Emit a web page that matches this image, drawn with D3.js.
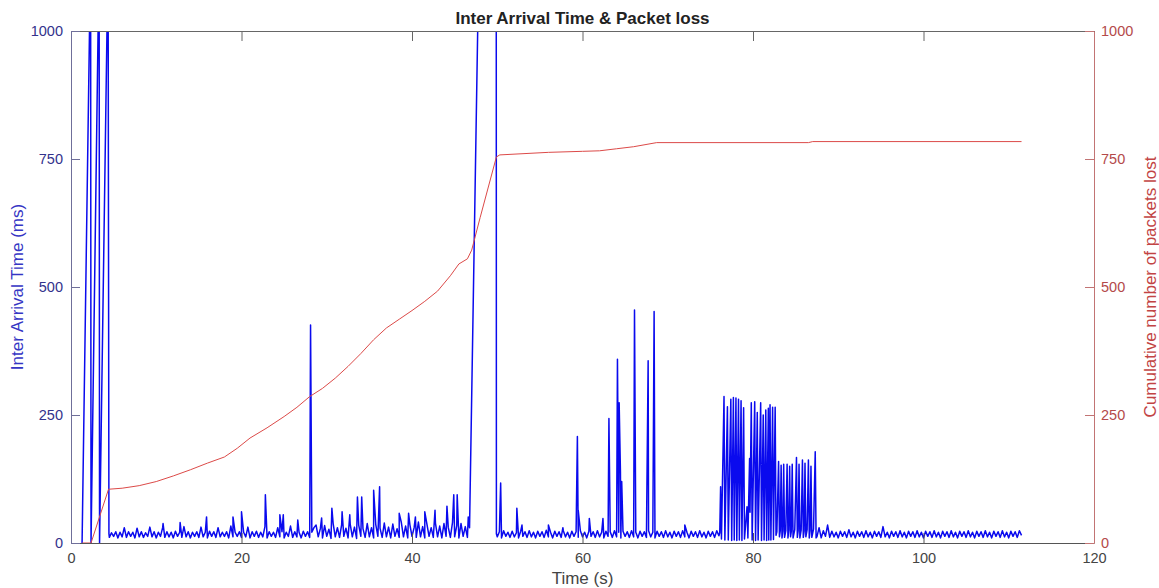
<!DOCTYPE html>
<html>
<head>
<meta charset="utf-8">
<title>Inter Arrival Time & Packet loss</title>
<script src="https://d3js.org/d3.v7.min.js"></script>
<style>
  body { margin: 0; background: #fff; }
  svg { display: block; font-family: "Liberation Sans", Arial, sans-serif; }
</style>
</head>
<body>
<script>

// ---- data ----
// x ticks / y ticks
var xTicks = [0, 20, 40, 60, 80, 100, 120];
var yTicks = [0, 250, 500, 750, 1000];

// blue: inter arrival time (ms). leading outages at start of capture
var leadT = [1.3, 2.3, 2.35, 3.3, 3.35, 4.35, 4.45];
var leadV = [0, 1150, 0, 1150, 0, 1150, 18];

// regular traffic, one reading every 0.25 s
var noiseStep = 0.25;
var noise1Start = 4.5;
var noise1 = [
  11,20,13,22,10,21,12,30,11,22,
  13,21,10,29,12,22,11,20,13,31,
  12,22,10,21,13,30,11,22,12,21,
  10,23,13,21,11,32,12,22,10,21,
  13,22,11,31,12,21,10,23,13,22,
  11,30,12,21,13,22,10,33,12,21,
  13,22,11,21,12,31,10,22,13,23,
  11,21,12,32,10,22,13,21,11,30,
  12,22,10,21,13,33,11,22,12,21,
  10,23,13,22,11,21,30,35,12,28,
  10,34,13,27,9,38,12,30,11,36,
  13,29,10,37,12,31,9,35,13,28,
  11,38,12,30,10,36,13,29,11,39,
  12,31,10,37,13,28,11,40,12,33,
  10,36,13,30,11,41,12,32,10,37,
  13,30,11,39,12,33,10,38,13,31,
  11,40,12,34,10,38,13,32,11,30
];
var spike1T = [10.8, 12.8, 15.9, 19.0, 20.0, 22.8, 24.5, 24.9, 26.6, 28.1, 29.4, 30.6, 31.8, 32.7,
               33.6, 34.1, 35.5, 36.2, 38.5, 39.6, 40.4, 41.5, 42.7, 44.1, 44.9, 45.3, 46.6];
var spike1V = [38, 40, 51, 51, 61, 94, 55, 55, 45, 426, 49, 68, 61, 55,
               90, 90, 103, 110, 58, 58, 51, 61, 64, 72, 94, 94, 51];

// long outage around 47-50 s
var outageT = [49.85, 49.9];
var outageV = [3180, 18];

var noise2Start = 50;
var noise2 = [
  12,22,10,24,13,21,11,23,12,20,
  10,23,13,22,11,24,12,21,10,23,
  13,22,11,25,12,21,10,23,13,22,
  11,24,12,21,10,23,13,22,11,24,
  12,21,10,23,13,22,11,24,12,21,
  10,23,13,22,11,24,12,21,10,23,
  13,22,11,24,12,21,10,23,13,22,
  11,24,12,21,10,23,13,22,11,24,
  12,21,10,23,13,22,11,24,12,21,
  10,23,13,22,11,24,12,21,10,23,
  13,22,11,24,14
];
var spike2T = [50.4, 52.3, 52.9, 56.0, 57.7, 59.4, 59.5, 60.8, 62.4, 63.1, 64.1, 64.3, 64.45, 64.6, 66.1, 67.7, 68.4, 72.0];
var spike2V = [117, 68, 35, 35, 30, 208, 64, 48, 48, 243, 359, 274, 140, 120, 455, 356, 452, 35];

// periodic burst 76-87 s
var burstT = [76.1, 76.2, 76.3, 76.6, 76.7, 77.0, 77.1, 77.4, 77.5, 77.7, 77.8, 78.0, 78.1, 78.3, 78.4,
              78.6, 78.7, 78.9, 79.0, 79.3, 79.4, 79.6, 79.65, 79.8, 79.9, 80.2, 80.3, 80.5, 80.6, 80.9,
              81.0, 81.2, 81.3, 81.5, 81.6, 81.8, 81.85, 82.0, 82.1, 82.3, 82.4, 82.6, 82.7, 82.8, 83.0,
              83.1, 83.2, 83.3, 83.4, 83.5, 83.6, 83.7, 83.85, 84.0, 84.1, 84.2, 84.3, 84.4, 84.5, 84.6,
              84.7, 84.9, 85.1, 85.2, 85.3, 85.4, 85.5, 85.65, 85.8, 85.9, 86.0, 86.1, 86.2, 86.35, 86.5,
              86.6, 86.7, 86.8, 86.9, 87.1, 87.3, 87.4];
var burstV = [20, 110, 8, 286, 6, 266, 6, 281, 5, 284, 6, 283, 5, 281, 6,
              278, 5, 264, 8, 71, 10, 165, 60, 274, 6, 276, 5, 255, 6, 274,
              5, 250, 6, 260, 5, 263, 6, 270, 6, 265, 7, 265, 15, 22, 159,
              12, 24, 152, 10, 23, 154, 11, 24, 154, 10, 25, 150, 12, 23, 154,
              10, 26, 167, 11, 24, 154, 10, 25, 162, 11, 23, 156, 12, 26, 162,
              10, 24, 150, 11, 27, 178, 10];

var noise3Start = 87.5;
var noise3 = [
  12,30,10,24,13,35,11,23,12,21,
  10,23,13,22,11,26,12,21,10,23,
  13,22,11,24,12,21,10,23,13,22,
  11,32,12,21,10,23,13,22,11,24,
  12,21,10,23,13,22,11,24,12,21,
  10,23,13,22,11,24,12,21,10,23,
  13,22,11,24,12,21,10,23,13,22,
  11,24,12,21,10,23,13,22,11,24,
  12,21,10,23,13,22,11,24,12,21,
  10,23,13,22,11,24,15
];

// red: cumulative number of packets lost
var lossT = [1.3, 2.35, 4.4, 6, 8, 10, 12, 14, 16, 18, 19.5, 21, 23, 25, 26.5, 28, 29.5, 31, 32.5, 34,
             35.5, 37, 38.5, 40, 41.5, 43, 44.5, 45.5, 46.5, 47, 48, 49.9, 50.3, 56, 60, 62, 64, 66,
             68.7, 86.5, 87, 111.5];
var lossV = [0, 0, 105, 107, 112, 120, 131, 143, 156, 168, 185, 205, 225, 247, 265, 286, 302, 322, 345, 370,
             397, 420, 437, 454, 472, 492, 522, 545, 555, 572, 636, 754, 758, 763, 765, 766, 770, 774,
             782, 782, 784, 784];

// ---- build blue table ----
var blue = [];
function addPairs(ts, vs) { ts.forEach(function(t, i) { blue.push({t: t, v: vs[i]}); }); }
function addGrid(start, vs) { vs.forEach(function(v, i) { blue.push({t: start + i * noiseStep, v: v}); }); }
addPairs(leadT, leadV);
addGrid(noise1Start, noise1);
addPairs(spike1T, spike1V);
addPairs(outageT, outageV);
addGrid(noise2Start, noise2);
addPairs(spike2T, spike2V);
addPairs(burstT, burstV);
addGrid(noise3Start, noise3);
blue.sort(function(a, b) { return a.t - b.t; });

var loss = lossT.map(function(t, i) { return {t: t, v: lossV[i]}; });

// ---- layout ----
var W = 1159, H = 588;
var margin = {top: 31, right: 65, bottom: 45, left: 71};
var width = W - margin.left - margin.right,
    height = H - margin.top - margin.bottom;

var svg = d3.select("body").append("svg")
    .attr("width", W)
    .attr("height", H);

var g = svg.append("g")
    .attr("transform", "translate(" + margin.left + "," + margin.top + ")");

var x = d3.scaleLinear().domain([0, 120]).range([0, width]);
var yL = d3.scaleLinear().domain([0, 1000]).range([height, 0]);
var yR = d3.scaleLinear().domain([0, 1000]).range([height, 0]);

g.append("clipPath").attr("id", "plotclip")
  .append("rect").attr("width", width).attr("height", height);

// lines
var blueLine = d3.line().x(function(d) { return x(d.t); }).y(function(d) { return yL(d.v); });
var redLine = d3.line().x(function(d) { return x(d.t); }).y(function(d) { return yR(d.v); });

g.append("path")
  .datum(blue)
  .attr("clip-path", "url(#plotclip)")
  .attr("fill", "none")
  .attr("stroke", "#0a0aee")
  .attr("stroke-width", 1.5)
  .attr("stroke-linejoin", "round")
  .attr("d", blueLine);

g.append("path")
  .datum(loss)
  .attr("clip-path", "url(#plotclip)")
  .attr("fill", "none")
  .attr("stroke", "#dc4a48")
  .attr("stroke-width", 1)
  .attr("d", redLine);

// axes
function styleAxis(sel, lineColor, textColor) {
  sel.select(".domain").attr("stroke", lineColor);
  sel.selectAll(".tick line").attr("stroke", lineColor);
  sel.selectAll(".tick text").attr("fill", textColor).style("font-size", "14.5px")
    .style("font-family", "'Liberation Sans', Arial, sans-serif");
}

var fmt = d3.format("d");

var xAxis = g.append("g")
  .attr("transform", "translate(0," + height + ")")
  .call(d3.axisBottom(x).tickValues(xTicks).tickFormat(fmt).tickSizeInner(-10).tickSizeOuter(0).tickPadding(10));
styleAxis(xAxis, "#555", "#444");

var xTop = g.append("g")
  .call(d3.axisTop(x).tickValues(xTicks).tickSizeInner(-10).tickSizeOuter(0).tickFormat(""));
styleAxis(xTop, "#666", "#444");

var yLeft = g.append("g")
  .call(d3.axisLeft(yL).tickValues(yTicks).tickFormat(fmt).tickSizeInner(-9).tickSizeOuter(0).tickPadding(8));
styleAxis(yLeft, "#6f6f9a", "#33338c");

var yRight = g.append("g")
  .attr("transform", "translate(" + width + ",0)")
  .call(d3.axisRight(yR).tickValues(yTicks).tickFormat(fmt).tickSizeInner(-9).tickSizeOuter(0).tickPadding(7));
styleAxis(yRight, "#c27474", "#b44a4a");

// title and labels
svg.append("text")
  .attr("x", margin.left + width / 2)
  .attr("y", 24)
  .attr("text-anchor", "middle")
  .style("font-weight", "bold")
  .style("font-size", "17px")
  .attr("fill", "#222")
  .text("Inter Arrival Time & Packet loss");

svg.append("text")
  .attr("x", margin.left + width / 2)
  .attr("y", 584)
  .attr("text-anchor", "middle")
  .style("font-size", "17px")
  .attr("fill", "#444")
  .text("Time (s)");

svg.append("text")
  .attr("transform", "translate(23," + (margin.top + height / 2) + ") rotate(-90)")
  .attr("text-anchor", "middle")
  .style("font-size", "17px")
  .attr("fill", "#3535c4")
  .text("Inter Arrival Time (ms)");

svg.append("text")
  .attr("transform", "translate(1144," + (margin.top + height / 2) + ") rotate(-90)")
  .attr("dy", "0.7em")
  .attr("text-anchor", "middle")
  .style("font-size", "17px")
  .attr("fill", "#c24444")
  .text("Cumulative number of packets lost");

</script>
</body>
</html>
